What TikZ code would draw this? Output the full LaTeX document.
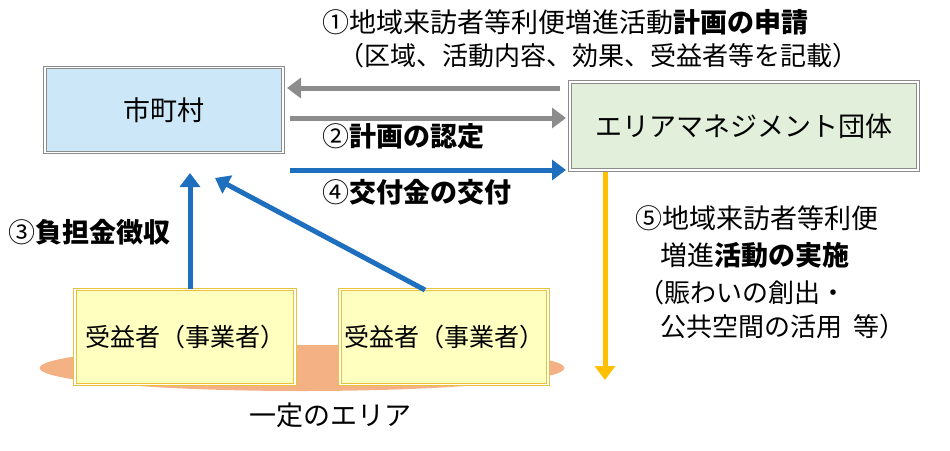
\documentclass[tikz,border=0pt]{standalone}
\usepackage{fontspec}
\setmainfont{Noto Sans CJK JP}
\usetikzlibrary{arrows.meta,shapes.geometric}
\begin{document}
\begin{tikzpicture}[x=1pt,y=-1pt,
  box/.style={draw=#1,double=white,double distance=1.5pt,line width=1.2pt,inner sep=0},
  arr/.style={line width=5pt,-{Triangle[length=14pt,width=20pt]}},
  lbl/.style={font=\fontsize{27}{31}\selectfont,anchor=west,inner sep=0}]
\useasboundingbox (0,0) rectangle (950,450);
\definecolor{gr}{HTML}{8C8C8C}\definecolor{bl}{HTML}{1F6FBF}
\definecolor{or}{HTML}{FFC000}\definecolor{gd}{HTML}{E8C23A}
\node[ellipse,fill={rgb,255:red,244;green,177;blue,131},minimum width=525pt,minimum height=46pt] (area) at (302,368) {};
\fill[fill={rgb,255:red,204;green,232;blue,248}] (45,68) rectangle (283,153);
\node[box=gr,minimum width=238pt,minimum height=85pt,font=\fontsize{27}{31}\selectfont] (city) at (164,110) {市町村};
\fill[fill={rgb,255:red,226;green,239;blue,218}] (570,82) rectangle (918,170);
\node[box=gr,minimum width=348pt,minimum height=88pt,font=\fontsize{27}{31}\selectfont] (org) at (744,126) {エリアマネジメント団体};
\fill[fill={rgb,255:red,255;green,255;blue,192}] (75,290) rectangle (295,385);
\node[box=gd,minimum width=220pt,minimum height=95pt,font=\fontsize{25}{29}\selectfont] (b1) at (185,337) {受益者（事業者）};
\fill[fill={rgb,255:red,255;green,255;blue,192}] (340,290) rectangle (548,385);
\node[box=gd,minimum width=208pt,minimum height=95pt,font=\fontsize{25}{29}\selectfont] (b2) at (444,337) {受益者（事業者）};
\coordinate (c1) at (560,88);\coordinate (c2) at (287,88);
\coordinate (c3) at (290,118);\coordinate (c4) at (566,118);
\coordinate (c5) at (290,170);\coordinate (c6) at (566,170);
\draw[arr,gr] (c1)--(c2);
\draw[arr,gr] (c3)--(c4);
\draw[arr,bl] (c5)--(c6);
\draw[arr,bl] (b1.north-|190,0)--(190,173);
\draw[arr,bl] (425,290)--(215,178);
\draw[arr,or] (605,172)--(605,380);
\node[lbl] (t1) at (322,22) {①地域来訪者等利便増進活動\textbf{計画の申請}};
\node[lbl,font=\fontsize{26}{30}\selectfont] (t1b) at (338,56) {（区域、活動内容、効果、受益者等を記載）};
\node[lbl] (t2) at (322,136) {②\textbf{計画の認定}};
\node[lbl] (t4) at (322,192) {④\textbf{交付金の交付}};
\node[lbl] (t3) at (8,232) {③\textbf{負担金徴収}};
\node[lbl] (t5) at (635,218) {⑤地域来訪者等利便};
\node[lbl] (t5b) at (660,255) {増進\textbf{活動の実施}};
\node[lbl,font=\fontsize{26}{30}\selectfont] (t5c) at (638,293) {（賑わいの創出・};
\node[lbl,font=\fontsize{26}{30}\selectfont] (t5d) at (660,327) {公共空間の活用\ \ 等）};
\node[font=\fontsize{27}{31}\selectfont] (t6) at (330,415) {一定のエリア};
\end{tikzpicture}
\end{document}
